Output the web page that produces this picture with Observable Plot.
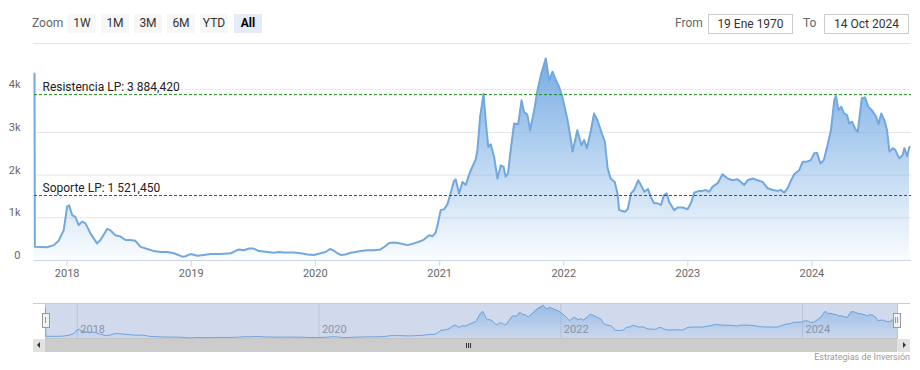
<!DOCTYPE html>
<html><head><meta charset="utf-8">
<script src="https://cdn.jsdelivr.net/npm/d3@7"></script>
<script src="https://cdn.jsdelivr.net/npm/@observablehq/plot@0.6"></script>
<style>
body{margin:0;background:#fff;font-family:Roboto,"Liberation Sans",sans-serif;}
#wrap{position:relative;width:920px;height:370px;overflow:hidden;}
.a{position:absolute;}
.btn{position:absolute;top:14px;width:28px;height:19px;background:#f7f7f7;color:#333;font-size:12px;line-height:19px;text-align:center;}
.btn.sel{background:#e6ebf5;color:#000;font-weight:bold;}
.lbl{position:absolute;top:14px;height:19px;line-height:19px;font-size:12px;color:#666;}
.inp{position:absolute;top:14px;height:20px;width:85px;box-sizing:border-box;border:1px solid #cccccc;font-size:12px;line-height:18px;text-align:center;color:#333;}
</style></head>
<body><div id="wrap">
<div class="lbl" style="left:32px">Zoom</div>
<div class="btn" style="left:68px">1W</div>
<div class="btn" style="left:101px">1M</div>
<div class="btn" style="left:134px">3M</div>
<div class="btn" style="left:167px">6M</div>
<div class="btn" style="left:200px">YTD</div>
<div class="btn sel" style="left:234px">All</div>
<div class="lbl" style="left:675px">From</div>
<div class="inp" style="left:708px">19 Ene 1970</div>
<div class="lbl" style="left:803px">To</div>
<div class="inp" style="left:824px">14 Oct 2024</div>
<div class="a" style="left:33px;top:43px;width:877px;border-top:1px solid #e6e6e6"></div>
<div id="main" class="a" style="left:0;top:44px"></div>
<div id="nav" class="a" style="left:0;top:290px"></div>
<div class="a" style="left:33px;top:303px;width:877px;border-top:1px solid #cccccc"></div>
<div class="a" style="left:33px;top:339px;width:877px;height:13px;background:#cccccc"></div>
<div class="a" style="left:33px;top:339px;width:12px;height:13px;background:#e2e2e2"></div>
<div class="a" style="left:897px;top:339px;width:13px;height:13px;background:#e2e2e2"></div>
<div class="a" style="left:37px;top:342px;width:0;height:0;border-top:3px solid transparent;border-bottom:3px solid transparent;border-right:3px solid #333"></div>
<div class="a" style="left:903px;top:342px;width:0;height:0;border-top:3px solid transparent;border-bottom:3px solid transparent;border-left:3px solid #333"></div>
<div class="a" style="left:466px;top:343px;width:1px;height:5px;background:#333"></div>
<div class="a" style="left:468px;top:343px;width:1px;height:5px;background:#333"></div>
<div class="a" style="left:470px;top:343px;width:1px;height:5px;background:#333"></div>
<div class="a" style="left:42px;top:313px;width:6px;height:13px;background:#f2f2f2;border:1px solid #999"></div>
<div class="a" style="left:45px;top:317px;width:1px;height:6px;background:#999"></div>
<div class="a" style="left:893px;top:313px;width:6px;height:13px;background:#f2f2f2;border:1px solid #999"></div>
<div class="a" style="left:895px;top:317px;width:1px;height:6px;background:#999"></div>
<div class="a" style="left:897px;top:317px;width:1px;height:6px;background:#999"></div>
<div class="a" style="right:10px;top:352px;font-size:9px;color:#999">Estrategias de Inversión</div>
</div>
<script>
const dates = ["2017-09-27","2017-09-28","2017-11-03","2017-11-23","2017-12-07","2017-12-22","2018-01-01","2018-01-07","2018-01-16","2018-01-25",
"2018-02-04","2018-02-14","2018-02-24","2018-03-11","2018-03-30","2018-04-09","2018-04-29","2018-05-08","2018-05-23","2018-06-07",
"2018-06-22","2018-07-06","2018-07-21","2018-08-05","2018-08-25","2018-09-13","2018-10-03","2018-10-22","2018-11-11","2018-12-06",
"2018-12-15","2018-12-30","2019-01-19","2019-02-07","2019-02-27","2019-03-28","2019-04-27","2019-05-06","2019-05-21","2019-06-05",
"2019-06-20","2019-07-04","2019-07-19","2019-08-13","2019-09-01","2019-09-16","2019-10-01","2019-10-30","2019-11-19","2019-12-09",
"2019-12-28","2020-01-17","2020-01-31","2020-02-13","2020-02-25","2020-03-06","2020-03-16","2020-03-30","2020-04-14","2020-04-29",
"2020-05-14","2020-06-02","2020-06-22","2020-07-11","2020-07-26","2020-08-05","2020-08-20","2020-09-08","2020-09-28","2020-10-17",
"2020-11-01","2020-11-16","2020-12-01","2020-12-11","2020-12-20","2020-12-27","2021-01-04","2021-01-14","2021-01-24","2021-02-02",
"2021-02-12","2021-02-17","2021-02-27","2021-03-09","2021-03-19","2021-03-28","2021-04-07","2021-04-17","2021-04-22","2021-04-30",
"2021-05-10","2021-05-17","2021-05-24","2021-05-31","2021-06-10","2021-06-20","2021-06-30","2021-07-08","2021-07-14","2021-07-21",
"2021-07-29","2021-08-08","2021-08-20","2021-08-30","2021-09-06","2021-09-16","2021-09-24","2021-10-06","2021-10-16","2021-10-27",
"2021-11-09","2021-11-19","2021-11-29","2021-12-09","2021-12-18","2021-12-28","2022-01-12","2022-01-22","2022-01-27","2022-02-10",
"2022-02-22","2022-03-02","2022-03-10","2022-03-22","2022-03-31","2022-04-10","2022-04-20","2022-05-02","2022-05-10","2022-05-19",
"2022-05-31","2022-06-08","2022-06-13","2022-06-23","2022-06-30","2022-07-08","2022-07-18","2022-07-27","2022-08-08","2022-08-16",
"2022-08-26","2022-09-06","2022-09-14","2022-09-24","2022-10-04","2022-10-14","2022-10-23","2022-10-31","2022-11-07","2022-11-22",
"2022-12-02","2022-12-17","2022-12-31","2023-01-10","2023-01-20","2023-02-03","2023-02-13","2023-02-23","2023-03-05","2023-03-15",
"2023-03-30","2023-04-13","2023-04-28","2023-05-13","2023-05-27","2023-06-06","2023-06-16","2023-06-26","2023-07-11","2023-07-25",
"2023-08-09","2023-08-24","2023-09-08","2023-09-22","2023-10-02","2023-10-12","2023-10-22","2023-11-01","2023-11-10","2023-11-25",
"2023-12-05","2023-12-15","2023-12-29","2024-01-08","2024-01-16","2024-01-26","2024-02-05","2024-02-16","2024-02-26","2024-03-07",
"2024-03-12","2024-03-19","2024-03-27","2024-04-05","2024-04-13","2024-04-20","2024-04-28","2024-05-07","2024-05-15","2024-05-22",
"2024-05-27","2024-06-05","2024-06-15","2024-06-25","2024-07-08","2024-07-15","2024-07-23","2024-08-01","2024-08-09","2024-08-16",
"2024-08-26","2024-09-02","2024-09-14","2024-09-24","2024-09-29","2024-10-07","2024-10-14"];

const values = [4380,320,310,360,460,710,1260,1290,1060,1020,
830,910,870,630,400,480,740,710,590,560,
480,480,460,320,270,220,200,200,170,90,
100,150,110,130,150,150,170,200,260,240,
280,280,220,200,180,200,190,190,170,140,
130,170,200,270,230,170,130,140,180,200,
220,240,240,260,340,410,420,400,360,400,
440,490,590,570,650,870,1180,1200,1320,1570,
1860,1900,1570,1840,1770,2000,2190,2370,2590,3370,
3900,3210,2660,2720,2430,1920,2230,2190,1960,2040,
2590,3210,3190,3750,3480,3410,3050,3520,3990,4380,
4730,4220,4420,4220,4070,3830,3290,2820,2550,3050,
2700,2820,2630,3050,3440,3290,3050,2780,2160,1920,
1840,1570,1180,1160,1140,1200,1570,1650,1880,1770,
1610,1670,1490,1340,1340,1300,1530,1570,1370,1180,
1240,1240,1200,1340,1590,1630,1630,1650,1610,1730,
1810,2020,1920,1880,1900,1840,1770,1880,1920,1880,
1840,1690,1650,1630,1650,1590,1700,1880,2020,2120,
2310,2310,2350,2510,2520,2270,2350,2700,3050,3760,
3850,3520,3600,3440,3410,3210,3250,3090,3010,3480,
3800,3820,3600,3520,3370,3190,3440,3290,3050,2550,
2630,2590,2390,2470,2630,2440,2660];

const xDomain = ["2017-09-27", "2024-10-20"];
const xTicks = ["2018-01-01","2019-01-01","2020-01-01","2021-01-01","2022-01-01","2023-01-01","2024-01-01"];
const yTicks = [0, 1000, 2000, 3000, 4000];
const yTickLabels = ["0", "1k", "2k", "3k", "4k"];
const resistance = 3884.42;
const support = 1521.45;
const resistanceLabel = "Resistencia LP: 3 884,420";
const supportLabel = "Soporte LP: 1 521,450";
const navTicks = ["2018-01-01","2020-01-01","2022-01-01","2024-01-01"];
const navTickLabels = ["2018","2020","2022","2024"];

const data = dates.map((d, i) => ({date: new Date(d), value: values[i]}));
const fmtY = d3.utcFormat("%Y");

function addGradient(svg, id, y1, y2, color, o1, o2) {
  const ns = "http://www.w3.org/2000/svg";
  const defs = document.createElementNS(ns, "defs");
  const lg = document.createElementNS(ns, "linearGradient");
  lg.setAttribute("id", id);
  lg.setAttribute("gradientUnits", "userSpaceOnUse");
  lg.setAttribute("x1", 0); lg.setAttribute("x2", 0);
  lg.setAttribute("y1", y1); lg.setAttribute("y2", y2);
  [[0, o1], [1, o2]].forEach(([off, op]) => {
    const s = document.createElementNS(ns, "stop");
    s.setAttribute("offset", off);
    s.setAttribute("stop-color", color);
    s.setAttribute("stop-opacity", op);
    lg.appendChild(s);
  });
  defs.appendChild(lg);
  svg.insertBefore(defs, svg.firstChild);
}

const labelStyle = {frameAnchor: "left", textAnchor: "start", lineAnchor: "middle", dx: 8, dy: -7, fill: "#222", fontSize: 12};

const main = Plot.plot({
  width: 920, height: 246,
  marginLeft: 34, marginRight: 9, marginTop: 11, marginBottom: 30,
  style: {fontFamily: "Roboto, 'Liberation Sans', sans-serif", fontSize: "11px", color: "#666", background: "transparent", overflow: "visible"},
  x: {type: "utc", domain: xDomain.map(d => new Date(d))},
  y: {domain: [0, 4800]},
  marks: [
    Plot.gridY(yTicks, {stroke: "#e6e6e6", strokeOpacity: 1}),
    Plot.areaY(data, {x: "date", y: "value", fill: "url(#mainGrad)"}),
    Plot.lineY(data, {x: "date", y: "value", stroke: "#72a8de", strokeWidth: 2}),
    Plot.ruleY([resistance], {stroke: "#1f8a1f", strokeDasharray: "3,2"}),
    Plot.ruleY([support], {stroke: "#d0102a", strokeDasharray: "3,2"}),
    Plot.text([resistance], {y: d => d, text: () => resistanceLabel, ...labelStyle}),
    Plot.text([support], {y: d => d, text: () => supportLabel, ...labelStyle}),
    Plot.ruleY([0], {stroke: "#ccd6eb"}),
    Plot.axisX(xTicks.map(d => new Date(d)), {tickFormat: fmtY, tickSize: 6, tickPadding: 3, stroke: "#ccd6eb", fill: "#666"}),
    Plot.axisY(yTicks, {tickSize: 0, tickPadding: 14, tickFormat: d => yTickLabels[yTicks.indexOf(d)], dy: -5, fill: "#666", label: null})
  ]
});
const yr = main.scale("y").range;
addGradient(main, "mainGrad", yr[1], yr[0], "#6ea7e2", 0.95, 0.03);
document.getElementById("main").appendChild(main);

const nav = Plot.plot({
  width: 920, height: 80,
  marginLeft: 45, marginRight: 23, marginTop: 13, marginBottom: 32,
  style: {fontFamily: "Roboto, 'Liberation Sans', sans-serif", fontSize: "11px", color: "#999", background: "transparent", overflow: "visible"},
  x: {type: "utc", domain: [data[0].date, data[data.length - 1].date], axis: null},
  y: {domain: [0, 5000], axis: null},
  marks: [
    Plot.frame({fill: "#d1daed", stroke: "#c4c4c4"}),
    Plot.gridX(navTicks.map(d => new Date(d)), {stroke: "#bcc5d8", strokeOpacity: 1}),
    Plot.areaY(data, {x: "date", y: "value", fill: "url(#navGrad)"}),
    Plot.lineY(data, {x: "date", y: "value", stroke: "#6fa3dc", strokeWidth: 1}),
    Plot.text(navTicks.map(d => new Date(d)), {x: d => d, text: (d, i) => navTickLabels[i], frameAnchor: "bottom", textAnchor: "start", dx: 3, dy: -6, fill: "#8a93a6", fontSize: 11})
  ]
});
const nr = nav.scale("y").range;
addGradient(nav, "navGrad", nr[1], nr[0], "#6ea7e2", 0.6, 0.05);
document.getElementById("nav").appendChild(nav);
</script>
</body></html>
